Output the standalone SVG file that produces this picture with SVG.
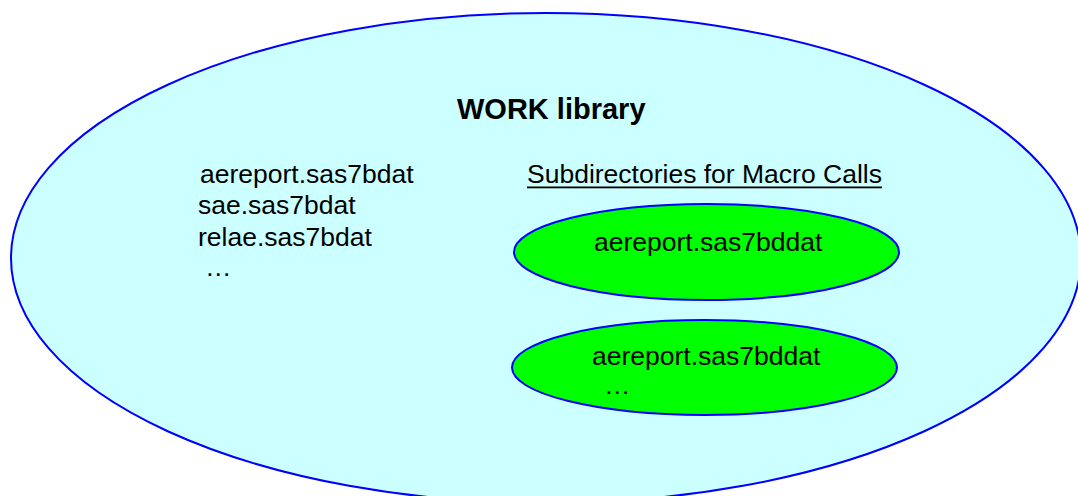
<svg xmlns="http://www.w3.org/2000/svg" width="1078" height="496" viewBox="0 0 1078 496">
<style>
.t{font-family:"Liberation Sans",Arial,sans-serif;font-size:26.5px;fill:#000}
.b{font-weight:bold;font-size:29px}
.lib{fill:#CCFFFF;stroke:#0000FF;stroke-width:2}
.sub{fill:#00FF00;stroke:#0000FF;stroke-width:2}
</style>
<rect width="1078" height="496" fill="#FFFFFF"/>
<g id="work-library">
<ellipse class="lib" cx="546" cy="258" rx="535" ry="245"/>
<text class="t b" x="457" y="119">WORK library</text>
<text class="t" x="200" y="183">aereport.sas7bdat</text>
<text class="t" x="198" y="214">sae.sas7bdat</text>
<text class="t" x="198" y="246">relae.sas7bdat</text>
<text class="t" x="205" y="276">…</text>
<text class="t" x="527" y="183">Subdirectories for Macro Calls</text>
<rect x="527" y="186.5" width="355" height="1.8" fill="#000"/>
</g>
<g id="subdir-1">
<ellipse class="sub" cx="706.5" cy="252" rx="192.5" ry="48"/>
<text class="t" x="594" y="251">aereport.sas7bddat</text>
</g>
<g id="subdir-2">
<ellipse class="sub" cx="704.5" cy="367.5" rx="192.5" ry="47.5"/>
<text class="t" x="592" y="365">aereport.sas7bddat</text>
<text class="t" x="604" y="394">…</text>
</g>
<g id="connectors"></g>
</svg>
